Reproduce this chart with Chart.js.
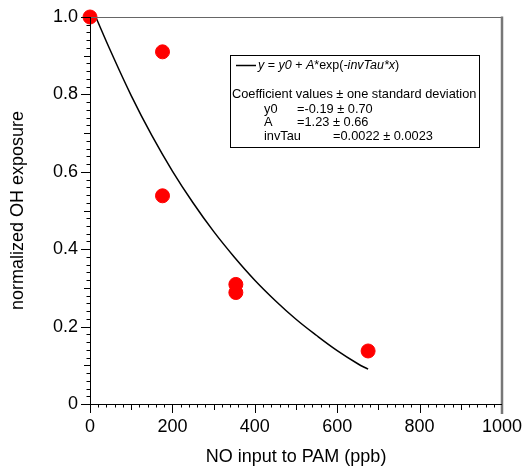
<!DOCTYPE html>
<html>
<head>
<meta charset="utf-8">
<script src="https://cdn.jsdelivr.net/npm/chart.js@4/dist/chart.umd.min.js"></script>
<style>
  html, body { margin: 0; padding: 0; background: #fff; }
  #wrap { position: relative; width: 525px; height: 468px; }
</style>
</head>
<body>
<div id="wrap"><canvas id="chart" width="525" height="468"></canvas></div>
<script>
// measured points
const noInput = [0, 176, 176, 354, 354, 675];
const ohExposure = [1.0, 0.91, 0.538, 0.309, 0.288, 0.137];

// fitted curve
const fitX = [14, 50, 100, 150, 200, 250, 300, 350, 400, 450, 500, 550, 600, 650, 675];
const fitY = [1.0, 0.912, 0.797, 0.694, 0.602, 0.52, 0.446, 0.38, 0.32, 0.267, 0.219, 0.177, 0.138, 0.104, 0.09];

const legendTitle = 'Coefficient values ± one standard deviation';
const coefNames = ['y0', 'A', 'invTau'];
const coefValues = ['=-0.19 ± 0.70', '=1.23 ± 0.66', '=0.0022 ± 0.0023'];

const FONT = '"Liberation Sans", Arial, Helvetica, sans-serif';

// minor / medium / major tick marks (outward)
const tickMarks = {
  id: 'tickMarks',
  afterDraw(chart) {
    const { ctx, chartArea: a, scales: { x, y } } = chart;
    ctx.save();
    ctx.strokeStyle = '#000';
    ctx.lineWidth = 1;
    ctx.beginPath();
    for (let i = 0; i <= 50; i++) {
      const len = i % 10 === 0 ? 9 : i % 5 === 0 ? 6 : 3.5;
      const px = Math.round(x.getPixelForValue(i * 20)) + 0.5;
      ctx.moveTo(px, a.bottom);
      ctx.lineTo(px, a.bottom + len);
      const py = Math.round(y.getPixelForValue(i * 0.02)) + 0.5;
      ctx.moveTo(a.left, py);
      ctx.lineTo(a.left - len, py);
    }
    ctx.stroke();

    // frame top / right
    ctx.strokeStyle = '#666';
    ctx.lineWidth = 1.2;
    ctx.beginPath();
    ctx.moveTo(a.left, a.top + 0.5);
    ctx.lineTo(a.right, a.top + 0.5);
    ctx.stroke();
    ctx.strokeStyle = '#777';
    ctx.lineWidth = 2.5;
    ctx.beginPath();
    ctx.moveTo(a.right, a.top - 0.5);
    ctx.lineTo(a.right, a.bottom + 10);
    ctx.stroke();

    // axis lines
    ctx.strokeStyle = '#000';
    ctx.lineWidth = 1;
    ctx.beginPath();
    ctx.moveTo(a.left + 0.5, a.top);
    ctx.lineTo(a.left + 0.5, a.bottom + 9);
    ctx.moveTo(a.left - 9, a.bottom + 0.5);
    ctx.lineTo(a.right, a.bottom + 0.5);
    ctx.stroke();
    ctx.restore();
  }
};

// Igor-style fit textbox
const fitBox = {
  id: 'fitBox',
  afterDraw(chart) {
    const ctx = chart.ctx;
    ctx.save();
    ctx.fillStyle = '#fff';
    ctx.fillRect(231, 55, 249, 93);
    ctx.strokeStyle = '#000';
    ctx.lineWidth = 1;
    ctx.strokeRect(230.5, 55.5, 249, 92);

    ctx.lineWidth = 1.5;
    ctx.beginPath();
    ctx.moveTo(236, 65.5);
    ctx.lineTo(256, 65.5);
    ctx.stroke();

    ctx.fillStyle = '#000';
    ctx.textBaseline = 'middle';
    const pieces = [
      ['y', true], [' = ', false], ['y0', true], [' + ', false], ['A', true],
      ['*exp(', false], ['-invTau*x', true], [')', false]
    ];
    let xPos = 258;
    pieces.forEach(([txt, it]) => {
      ctx.font = (it ? 'italic ' : '') + '12.5px ' + FONT;
      ctx.fillText(txt, xPos, 66);
      xPos += ctx.measureText(txt).width;
    });

    ctx.font = '12.8px ' + FONT;
    ctx.fillText(legendTitle, 232, 94);
    const rowY = [109, 122, 136];
    const valX = [297, 297, 333];
    coefNames.forEach((name, i) => {
      ctx.fillText(name, 264, rowY[i]);
      ctx.fillText(coefValues[i], valX[i], rowY[i]);
    });
    ctx.restore();
  }
};

new Chart(document.getElementById('chart'), {
  type: 'scatter',
  data: {
    datasets: [
      {
        label: 'data',
        data: noInput.map((v, i) => ({ x: v, y: ohExposure[i] })),
        backgroundColor: '#ff0000',
        borderColor: '#ff0000',
        pointRadius: 7,
        pointHoverRadius: 7,
        clip: false
      },
      {
        type: 'line',
        label: 'fit',
        data: fitX.map((v, i) => ({ x: v, y: fitY[i] })),
        borderColor: '#000',
        borderWidth: 1.5,
        pointRadius: 0,
        tension: 0.4,
        fill: false
      }
    ]
  },
  options: {
    responsive: false,
    animation: false,
    events: [],
    layout: { padding: { left: 0, right: 23, top: 17, bottom: 0 } },
    plugins: {
      legend: { display: false },
      tooltip: { enabled: false }
    },
    scales: {
      x: {
        type: 'linear',
        min: 0,
        max: 1000,
        afterFit: s => { s.height = 64; s.paddingLeft = 0; s.paddingRight = 0; },
        grid: { display: false, drawTicks: false },
        border: { display: false },
        ticks: {
          stepSize: 200,
          padding: 12,
          maxRotation: 0,
          color: '#000',
          font: { family: FONT, size: 18 },
          callback: v => String(v)
        },
        title: {
          display: true,
          text: 'NO input to PAM (ppb)',
          color: '#000',
          font: { family: FONT, size: 18 },
          padding: { top: 0, bottom: 0 }
        }
      },
      y: {
        min: 0,
        max: 1,
        afterFit: s => { s.width = 90; s.paddingTop = 0; s.paddingBottom = 0; },
        grid: { display: false, drawTicks: false },
        border: { display: false },
        ticks: {
          stepSize: 0.2,
          padding: 12,
          color: '#000',
          font: { family: FONT, size: 18 },
          callback: v => (v === 0 ? '0' : v.toFixed(1))
        },
        title: {
          display: true,
          text: 'normalized OH exposure',
          color: '#000',
          font: { family: FONT, size: 18 },
          padding: { top: 7, bottom: 0 }
        }
      }
    }
  },
  plugins: [tickMarks, fitBox]
});
</script>
</body>
</html>
